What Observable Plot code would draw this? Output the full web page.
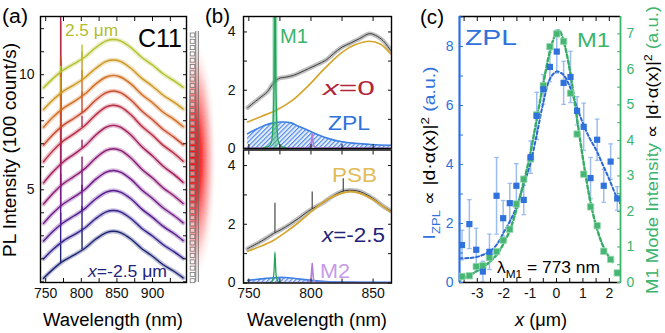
<!DOCTYPE html>
<html><head><meta charset="utf-8">
<script src="https://cdn.jsdelivr.net/npm/d3@7"></script>
<script src="https://cdn.jsdelivr.net/npm/@observablehq/plot@0.6"></script>
<style>
html,body{margin:0;padding:0;background:#fff;}
#fig{position:relative;width:665px;height:333px;overflow:hidden;background:#fff;}
#fig svg{position:absolute;left:0;top:0;max-width:none;}
</style></head>
<body>
<div id="fig">
<svg width="0" height="0" style="position:absolute">
 <defs>
  <pattern id="hatch" patternUnits="userSpaceOnUse" width="3.2" height="3.2" patternTransform="rotate(45)">
   <rect width="3.2" height="3.2" fill="#e6eefb"/>
   <line x1="0.6" y1="0" x2="0.6" y2="3.2" stroke="#4a86e6" stroke-width="1.1"/>
  </pattern>
 </defs>
</svg>
</div>
<script>
// ================= DATA =================
// (a) spectra, x position of each spectrum (um) and colours
const specX = [-2.5, -2.0, -1.5, -1.0, -0.5, 0, 0.5, 1.0, 1.5, 2.0, 2.5];
const specColors = ["#1b2371","#35208a","#551b90","#701a88","#8a1b75","#a11d5d","#b92a43","#c94b2d","#d26f22","#cc9822","#b4c12c"];
const specWl = [747, 760, 775, 790, 805, 820, 835, 845, 855, 870, 885, 900, 915, 930, 943];
const specIntensity = [
  [1.15, 1.54, 1.91, 2.17, 2.46, 2.85, 3.14, 3.20, 3.14, 2.85, 2.44, 2.11, 1.74, 1.46, 1.17],
  [2.00, 2.40, 2.78, 3.05, 3.34, 3.74, 4.04, 4.10, 4.04, 3.74, 3.32, 2.99, 2.61, 2.31, 2.02],
  [2.77, 3.19, 3.58, 3.87, 4.18, 4.60, 4.90, 4.97, 4.90, 4.60, 4.16, 3.80, 3.41, 3.10, 2.79],
  [3.54, 3.98, 4.39, 4.69, 5.01, 5.45, 5.77, 5.84, 5.77, 5.45, 4.99, 4.62, 4.21, 3.88, 3.56],
  [4.38, 4.84, 5.27, 5.58, 5.92, 6.37, 6.71, 6.78, 6.71, 6.37, 5.89, 5.51, 5.08, 4.74, 4.40],
  [5.30, 5.77, 6.22, 6.55, 6.90, 7.37, 7.72, 7.80, 7.72, 7.37, 6.87, 6.47, 6.02, 5.67, 5.32],
  [6.22, 6.69, 7.13, 7.44, 7.79, 8.25, 8.60, 8.67, 8.60, 8.25, 7.76, 7.37, 6.93, 6.59, 6.24],
  [6.94, 7.39, 7.81, 8.11, 8.44, 8.89, 9.22, 9.29, 9.22, 8.89, 8.42, 8.04, 7.62, 7.29, 6.96],
  [7.72, 8.15, 8.55, 8.84, 9.16, 9.59, 9.90, 9.97, 9.90, 9.59, 9.14, 8.78, 8.37, 8.06, 7.74],
  [8.49, 8.90, 9.29, 9.56, 9.87, 10.27, 10.58, 10.64, 10.58, 10.27, 9.84, 9.50, 9.11, 8.81, 8.51],
  [9.43, 9.83, 10.21, 10.48, 10.77, 11.17, 11.47, 11.53, 11.47, 11.17, 10.75, 10.42, 10.04, 9.74, 9.45]
];
const m1Wl = 771, m2Wl = 801;
const m1Amp = [0.8, 1.3, 2.2, 3.5, 5.5, 7.0, 5.3, 3.1, 1.6, 0.7, 0.25];
const m2Amp = [0.9, 1.0, 1.1, 0.9, 0.6, 0.35, 0.5, 0.9, 1.1, 1.2, 0.6];

// (b) top: x = 0
const bTopDataWl = [749, 758, 765, 769, 774, 780, 786, 792, 798, 805, 812, 818, 825, 832, 839, 847, 852, 858, 864];
const bTopData   = [1.40, 1.71, 1.95, 2.20, 2.40, 2.45, 2.51, 2.62, 2.74, 2.88, 3.03, 3.25, 3.48, 3.62, 3.77, 3.94, 3.88, 3.70, 3.37];
const bTopPsbWl = [749, 760, 772, 785, 798, 812, 825, 835, 847, 856, 864];
const bTopPsb   = [0.91, 1.10, 1.31, 1.65, 2.16, 2.79, 3.30, 3.55, 3.68, 3.58, 3.25];
const bTopZplWl = [749, 756, 763, 770, 777, 784, 790, 798, 806, 815, 825, 835, 845, 855, 864];
const bTopZpl   = [0.51, 0.66, 0.80, 0.88, 0.91, 0.88, 0.76, 0.62, 0.46, 0.33, 0.23, 0.18, 0.15, 0.12, 0.11];
const m1LineWl = [762, 766, 768, 769, 770, 770.5, 771, 771.5, 772, 773, 774, 776, 780];
const bTopM1   = [0.03, 0.08, 0.2, 0.5, 1.6, 3.7, 6.5, 3.7, 1.6, 0.5, 0.2, 0.08, 0.03];
const bBotM1   = [0.0, 0.01, 0.03, 0.08, 0.26, 0.6, 1.05, 0.6, 0.26, 0.08, 0.03, 0.01, 0.0];
const m2LineWl = [746, 798, 800, 801, 802, 804, 865];
const bTopM2   = [0.01, 0.02, 0.1, 0.5, 0.1, 0.02, 0.01];
const bBotM2   = [0.01, 0.02, 0.12, 0.66, 0.12, 0.02, 0.01];
// (b) bottom: x = -2.5
const bBotDataWl = [749, 759, 765, 770, 776, 783, 790, 797, 804, 810, 818, 825, 831, 837, 843, 851, 858, 864];
const bBotData   = [1.17, 1.40, 1.55, 1.69, 1.82, 2.00, 2.20, 2.42, 2.60, 2.74, 2.97, 3.12, 3.16, 3.14, 3.05, 2.85, 2.62, 2.46];
const bBotSpikeWl = [771, 801, 826];
const bBotSpikeLo = [1.70, 2.50, 3.10];
const bBotSpikeHi = [2.72, 3.10, 3.55];
const bBotPsbWl = [749, 760, 770, 780, 790, 800, 810, 818, 826, 832, 838, 845, 853, 864];
const bBotPsb   = [1.08, 1.26, 1.46, 1.74, 2.06, 2.42, 2.76, 2.95, 3.07, 3.11, 3.07, 2.95, 2.76, 2.42];
const bBotZplWl = [749, 760, 770, 776, 782, 790, 800, 812, 830, 864];
const bBotZpl   = [0.09, 0.14, 0.18, 0.19, 0.18, 0.14, 0.09, 0.05, 0.03, 0.02];

// (c) position scan
const cX     = [-3.58,-3.30,-3.04,-2.79,-2.54,-2.27,-2.02,-1.77,-1.52,-1.24,-0.98,-0.75,-0.50,-0.25,0.01,0.27,0.53,0.78,1.03,1.29,1.54,1.79,2.05,2.30];
const cZpl   = [1.27,1.98,1.11,0.37,1.04,2.94,2.18,2.69,3.28,2.80,4.25,5.65,6.55,7.31,7.83,6.77,6.97,5.82,5.28,3.54,4.84,3.28,4.10,2.85];
const cZplErr= [0.5,0.83,0.73,0.35,0.6,1.3,0.6,0.67,0.75,0.5,0.55,0.8,0.5,0.5,0.73,0.73,0.87,0.48,0.8,0.7,0.7,0.56,0.6,0.4];
const cM1    = [0.17,0.19,0.45,0.47,0.70,0.87,1.19,1.50,2.21,2.91,3.48,4.72,5.54,6.64,7.00,6.79,5.33,4.18,3.05,2.13,1.60,0.88,0.65,0.27];
const zplFitX = [-3.67,-3.3,-3.0,-2.75,-2.5,-2.25,-2.0,-1.75,-1.5,-1.25,-1.0,-0.75,-0.5,-0.25,0,0.25,0.5,0.75,1.0,1.25,1.5,1.75,2.0,2.25,2.4];
const zplFit  = [0.82,0.83,0.87,0.95,1.07,1.3,1.7,2.1,2.6,3.3,4.0,5.0,6.1,6.9,7.15,7.05,6.65,6.0,5.4,4.9,4.5,4.0,3.5,2.95,2.7];
const m1FitX  = [-3.67,-3.3,-3.0,-2.75,-2.5,-2.25,-2.0,-1.75,-1.5,-1.25,-1.0,-0.75,-0.5,-0.25,0,0.1,0.25,0.5,0.75,1.0,1.25,1.5,1.75,2.0,2.15];
const m1Fit   = [0.08,0.2,0.33,0.45,0.6,0.8,1.1,1.5,2.1,2.8,3.6,4.6,5.6,6.5,7.05,7.1,6.85,6.0,4.75,3.5,2.4,1.6,1.05,0.7,0.55];

// ================= STYLE =================
const FONT = "'Liberation Sans', Arial, Helvetica, sans-serif";
const BLUE = "#2f72dc", BLUE_L = "#9dbdf0", GREEN = "#3bb46c", GOLD = "#d6a52c", PURPLE = "#b47ddc", NAVY = "#1f237a";
const fig = document.getElementById("fig");
const W = 665, H = 333;

function addPlot(opts) {
  const svg = Plot.plot(Object.assign({
    width: W, height: H,
    style: {background: "transparent", fontFamily: FONT, fontSize: "14px", color: "#111", overflow: "visible"}
  }, opts));
  svg.style.position = "absolute"; svg.style.left = "0px"; svg.style.top = "0px";
  fig.appendChild(svg);
  return svg;
}
const blank = () => "";
const strX = d => String(d);
const rows = (xs, ys) => xs.map((x, i) => ({x, y: ys[i]}));

// ---------- decoration: photonic strip with glowing mode ----------
const deco = d3.select(fig).append("svg").attr("width", W).attr("height", H);
const dd = deco.append("defs");
const rg = dd.append("radialGradient").attr("id", "glow");
[[0, "#ff0000", 1], [0.35, "#ff1010", 0.85], [0.7, "#ff5050", 0.35], [1, "#ffffff", 0]].forEach(([o, c, a]) =>
  rg.append("stop").attr("offset", o).attr("stop-color", c).attr("stop-opacity", a));
dd.append("clipPath").attr("id", "glowClip").append("rect").attr("x", 189).attr("y", 20).attr("width", 40).attr("height", 270);
deco.append("ellipse").attr("cx", 193).attr("cy", 160).attr("rx", 24).attr("ry", 125)
  .attr("fill", "url(#glow)").attr("clip-path", "url(#glowClip)");
for (let i = 0; i < 40; i++) {
  deco.append("rect").attr("x", 190.2).attr("y", 33 + i * 6.3).attr("width", 4.6).attr("height", 4)
    .attr("fill", "rgba(255,255,255,0.45)").attr("stroke", "#777").attr("stroke-width", 0.8);
}
deco.append("line").attr("x1", 195.8).attr("x2", 195.8).attr("y1", 31).attr("y2", 282).attr("stroke", "#666").attr("stroke-width", 0.9);
deco.append("line").attr("x1", 198.3).attr("x2", 198.3).attr("y1", 31).attr("y2", 282).attr("stroke", "#666").attr("stroke-width", 0.9);

// ---------- (a) ----------
const aTable = [];
specIntensity.forEach((r, s) => r.forEach((v, j) => aTable.push({s, wl: specWl[j], v})));
function onCurve(r, wl) {
  const j = specWl.findIndex(w => w >= wl);
  return r[j - 1] + (r[j] - r[j - 1]) * (wl - specWl[j - 1]) / (specWl[j] - specWl[j - 1]);
}
const aSpikes = [];
specIntensity.forEach((r, s) => {
  const b1 = onCurve(r, m1Wl), b2 = onCurve(r, m2Wl);
  aSpikes.push({s, wl: m1Wl, y1: b1, y2: b1 + m1Amp[s]});
  aSpikes.push({s, wl: m2Wl, y1: b2, y2: b2 + m2Amp[s]});
});
addPlot({
  marginLeft: 40, marginRight: 479, marginTop: 16, marginBottom: 51,
  x: {domain: [742.7, 947.7]}, y: {domain: [0.97, 12.53]},
  marks: [
    Plot.line(aTable, {x: "wl", y: "v", z: "s", stroke: d => specColors[d.s], strokeWidth: 4.5, strokeOpacity: 0.3, curve: "catmull-rom", clip: true}),
    Plot.ruleX(aSpikes, {x: "wl", y1: "y1", y2: "y2", stroke: d => specColors[d.s], strokeWidth: 1.4, clip: true}),
    Plot.line(aTable, {x: "wl", y: "v", z: "s", stroke: d => specColors[d.s], strokeWidth: 1.4, curve: "catmull-rom", clip: true}),
    Plot.frame({stroke: "#000", strokeWidth: 1.4}),
    Plot.axisX({anchor: "bottom", ticks: d3.range(750, 950, 25), tickSize: -4, tickFormat: blank, label: null}),
    Plot.axisX({anchor: "top", ticks: d3.range(750, 950, 25), tickSize: -4, tickFormat: blank, label: null}),
    Plot.axisX({anchor: "bottom", ticks: [750, 800, 850, 900], tickSize: 0, tickPadding: 6, fontSize: 14, tickFormat: strX, label: null}),
    Plot.axisY({anchor: "left", ticks: d3.range(1, 13), tickSize: -4, tickFormat: blank, label: null}),
    Plot.axisY({anchor: "right", ticks: d3.range(1, 13), tickSize: -4, tickFormat: blank, label: null}),
    Plot.axisY({anchor: "left", ticks: [5, 10], tickSize: 0, tickPadding: 6, fontSize: 14, tickFormat: strX, label: null})
  ]
});

// ---------- (b) ----------
const bX = {domain: [745.7, 864.8]};
function bMarks(o) {
  return [
    Plot.areaY(o.zpl, {x: "x", y: "y", fill: "url(#hatch)", curve: "catmull-rom", clip: true}),
    Plot.line(o.zpl, {x: "x", y: "y", stroke: "#3f80e4", strokeWidth: 1.6, curve: "catmull-rom", clip: true}),
    Plot.line(o.data, {x: "x", y: "y", stroke: "#8a8a8a", strokeWidth: 4.5, strokeOpacity: 0.55, curve: "catmull-rom", clip: true}),
    Plot.ruleX(o.spikes, {x: "x", y1: "y1", y2: "y2", stroke: "#555", strokeWidth: 1.3, clip: true}),
    Plot.line(o.data, {x: "x", y: "y", stroke: "#3d3d3d", strokeWidth: 1, curve: "catmull-rom", clip: true}),
    Plot.line(o.psb, {x: "x", y: "y", stroke: GOLD, strokeWidth: 1.7, curve: "catmull-rom", clip: true}),
    Plot.line(o.m2, {x: "x", y: "y", stroke: PURPLE, strokeWidth: 1.6, clip: true}),
    ...(o.band ? [Plot.ruleX([m1Wl], {y1: 0, y2: 6, stroke: "#4cc07f", strokeWidth: 5, strokeOpacity: 0.55, clip: true})] : []),
    Plot.line(o.m1, {x: "x", y: "y", stroke: "#27a35e", strokeWidth: 1.3, curve: "catmull-rom", clip: true}),
    Plot.frame({stroke: "#000", strokeWidth: 1.4}),
    Plot.axisX({anchor: "bottom", ticks: d3.range(750, 870, 25), tickSize: -4, tickFormat: blank, label: null}),
    Plot.axisX({anchor: "top", ticks: d3.range(750, 870, 25), tickSize: -4, tickFormat: blank, label: null}),
    Plot.axisY({anchor: "left", ticks: [0, 1, 2, 3, 4], tickSize: -4, tickFormat: blank, label: null}),
    Plot.axisY({anchor: "right", ticks: [0, 1, 2, 3, 4], tickSize: -4, tickFormat: blank, label: null}),
    Plot.axisY({anchor: "left", ticks: [0, 2, 4], tickSize: 0, tickPadding: 8, fontSize: 14, tickFormat: strX, label: null}),
    ...(o.xlabels ? [Plot.axisX({anchor: "bottom", ticks: [750, 800, 850], tickSize: 0, tickPadding: 5, fontSize: 14, tickFormat: strX, label: null})] : [])
  ];
}
addPlot({
  marginLeft: 243, marginRight: 274, marginTop: 16, marginBottom: 185,
  x: bX, y: {domain: [0, 4.53]},
  marks: bMarks({
    zpl: rows(bTopZplWl, bTopZpl), data: rows(bTopDataWl, bTopData), psb: rows(bTopPsbWl, bTopPsb),
    spikes: [{x: m1Wl, y1: 2.25, y2: 6}], m1: rows(m1LineWl, bTopM1), m2: rows(m2LineWl, bTopM2), band: true, xlabels: false
  })
});
addPlot({
  marginLeft: 243, marginRight: 274, marginTop: 149.5, marginBottom: 50.5,
  x: bX, y: {domain: [0, 4.53]},
  marks: bMarks({
    zpl: rows(bBotZplWl, bBotZpl), data: rows(bBotDataWl, bBotData), psb: rows(bBotPsbWl, bBotPsb),
    spikes: bBotSpikeWl.map((x, i) => ({x, y1: bBotSpikeLo[i], y2: bBotSpikeHi[i]})),
    m1: rows(m1LineWl, bBotM1), m2: rows(m2LineWl, bBotM2), band: false, xlabels: true
  })
});

// ---------- (c) ----------
const cXDom = [-3.674, 2.424];
const cMargins = {marginLeft: 459, marginRight: 45, marginTop: 16, marginBottom: 51};
const zplRows = cX.map((x, i) => ({x, y: cZpl[i], lo: cZpl[i] - cZplErr[i], hi: cZpl[i] + cZplErr[i]}));
const capRows = zplRows.flatMap(d => [{x: d.x, y: d.lo}, {x: d.x, y: d.hi}]);
const capSym = {draw(ctx) { ctx.moveTo(-2.3, 0); ctx.lineTo(2.3, 0); }};
// layer 1: blue axis, error bars, blue fit
addPlot({
  ...cMargins, x: {domain: cXDom}, y: {domain: [0, 9.02]},
  marks: [
    Plot.ruleX(zplRows, {x: "x", y1: "lo", y2: "hi", stroke: BLUE_L, strokeWidth: 1.5, clip: true}),
    Plot.dot(capRows, {x: "x", y: "y", symbol: capSym, r: 3, fill: "none", stroke: BLUE_L, strokeWidth: 1.3, clip: true}),
    Plot.line(rows(zplFitX, zplFit), {x: "x", y: "y", stroke: "#2a68d4", strokeWidth: 2, strokeDasharray: "3,2.5", curve: "catmull-rom", clip: true}),
    Plot.ruleY([0], {stroke: "#000", strokeWidth: 1.5}),
    Plot.ruleY([9.02], {stroke: "#000", strokeWidth: 1.5}),
    Plot.ruleX([cXDom[0]], {stroke: BLUE, strokeWidth: 2.2}),
    Plot.axisX({anchor: "bottom", ticks: d3.range(-3.5, 2.5, 0.5), tickSize: -4, tickFormat: blank, label: null}),
    Plot.axisX({anchor: "top", ticks: d3.range(-3.5, 2.5, 0.5), tickSize: -4, tickFormat: blank, label: null}),
    Plot.axisX({anchor: "bottom", ticks: [-3, -2, -1, 0, 1, 2], tickSize: 0, tickPadding: 6, fontSize: 14, tickFormat: strX, label: null}),
    Plot.axisY({anchor: "left", ticks: d3.range(0, 10), tickSize: -4, tickFormat: blank, color: BLUE, label: null}),
    Plot.axisY({anchor: "left", ticks: [0, 2, 4, 6, 8], tickSize: 0, tickPadding: 6, fontSize: 14, tickFormat: strX, color: BLUE, label: null})
  ]
});
// layer 2: green (right axis)
addPlot({
  ...cMargins, x: {domain: cXDom, axis: null}, y: {domain: [0, 7.49]},
  marks: [
    Plot.line(rows(m1FitX, m1Fit), {x: "x", y: "y", stroke: "#36ad66", strokeWidth: 2.4, strokeDasharray: "3.5,2.5", curve: "catmull-rom", clip: true}),
    Plot.dot(rows(cX, cM1), {x: "x", y: "y", symbol: "square", r: 3.6, fill: "#45b673", stroke: "#9ad8b1", strokeWidth: 0.8, clip: true}),
    Plot.ruleX([cXDom[1]], {stroke: GREEN, strokeWidth: 1.8}),
    Plot.axisY({anchor: "right", ticks: d3.range(0, 7.5, 0.5), tickSize: -4, tickFormat: blank, color: GREEN, label: null}),
    Plot.axisY({anchor: "right", ticks: d3.range(0, 8), tickSize: 0, tickPadding: 6, fontSize: 14, tickFormat: strX, color: GREEN, label: null})
  ]
});
// layer 3: blue squares on top
addPlot({
  ...cMargins, x: {domain: cXDom, axis: null}, y: {domain: [0, 9.02], axis: null},
  marks: [
    Plot.dot(zplRows, {x: "x", y: "y", symbol: "square", r: 3.5, fill: BLUE, clip: true})
  ]
});

// ---------- text overlay ----------
const ov = d3.select(fig).append("svg").attr("width", W).attr("height", H).style("font-family", FONT);
function label(x, y, parts, {size = 16, anchor = "start", len = null, rotate = 0, fill = "#000"} = {}) {
  const t = ov.append("text").attr("x", x).attr("y", y).attr("font-size", size).attr("text-anchor", anchor).attr("fill", fill);
  if (rotate) t.attr("transform", `rotate(${rotate},${x},${y})`);
  if (len) t.attr("textLength", len).attr("lengthAdjust", "spacingAndGlyphs");
  let shift = 0;
  for (const p of parts) {
    const q = typeof p === "string" ? {t: p} : p;
    const s = t.append("tspan").text(q.t);
    let ns = q.sub ? size * 0.3 : q.sup ? -size * 0.38 : 0;
    if (ns !== shift) s.attr("dy", ns - shift);
    shift = ns;
    if (q.sub || q.sup) s.attr("font-size", size * 0.68);
    if (q.fill) s.attr("fill", q.fill);
    if (q.italic) s.attr("font-style", "italic");
  }
}
label(2, 23, ["(a)"], {size: 20, len: 26});
label(205, 23, ["(b)"], {size: 20, len: 25});
label(420, 24, ["(c)"], {size: 20, len: 24});
label(138, 47, ["C11"], {size: 25, len: 44});
label(65, 36, ["2.5 μm"], {size: 16, len: 53, fill: "#b0bd2c"});
label(88, 277, [{t: "x", italic: true}, "=-2.5 μm"], {size: 16, len: 79, fill: NAVY});
label(16, 150, ["PL Intensity (100 count/s)"], {size: 18, anchor: "middle", rotate: -90, len: 214});
label(113, 326, ["Wavelength (nm)"], {size: 18, anchor: "middle", len: 140});
label(317, 326, ["Wavelength (nm)"], {size: 18, anchor: "middle", len: 140});
label(280, 43, ["M1"], {size: 20, len: 28, fill: GREEN});
label(323, 95, [{t: "x", italic: true}, "=0"], {size: 20, len: 52, fill: "#b3263a"});
label(328, 130, ["ZPL"], {size: 21, len: 42, fill: BLUE});
label(332, 182, ["PSB"], {size: 21, len: 45, fill: "#e2bb57"});
label(322, 242, [{t: "x", italic: true}, "=-2.5"], {size: 20, len: 63, fill: NAVY});
label(320, 278, ["M2"], {size: 20, len: 30, fill: "#c69be8"});
label(465, 45, ["ZPL"], {size: 22, len: 52, fill: BLUE});
label(577, 47, ["M1"], {size: 20, len: 33, fill: GREEN});
label(497, 273, ["λ", {t: "M1", sub: true}, " = 773 nm"], {size: 17, len: 103});
label(541, 326, [{t: "x", italic: true}, " (μm)"], {size: 18, anchor: "middle", len: 52});
label(435, 153, [{t: "I", fill: BLUE}, {t: "ZPL", sub: true, fill: BLUE}, " ∝ |d·α(x)|", {t: "2", sup: true}, {t: " (a.u.)", fill: BLUE}], {size: 17, anchor: "middle", rotate: -90, len: 173});
label(658, 150, [{t: "M1 Mode Intensity", fill: GREEN}, " ∝ |d·α(x)|", {t: "2", sup: true}, {t: " (a.u.)", fill: GREEN}], {size: 17, anchor: "middle", rotate: -90, len: 288});
</script>
</body></html>
